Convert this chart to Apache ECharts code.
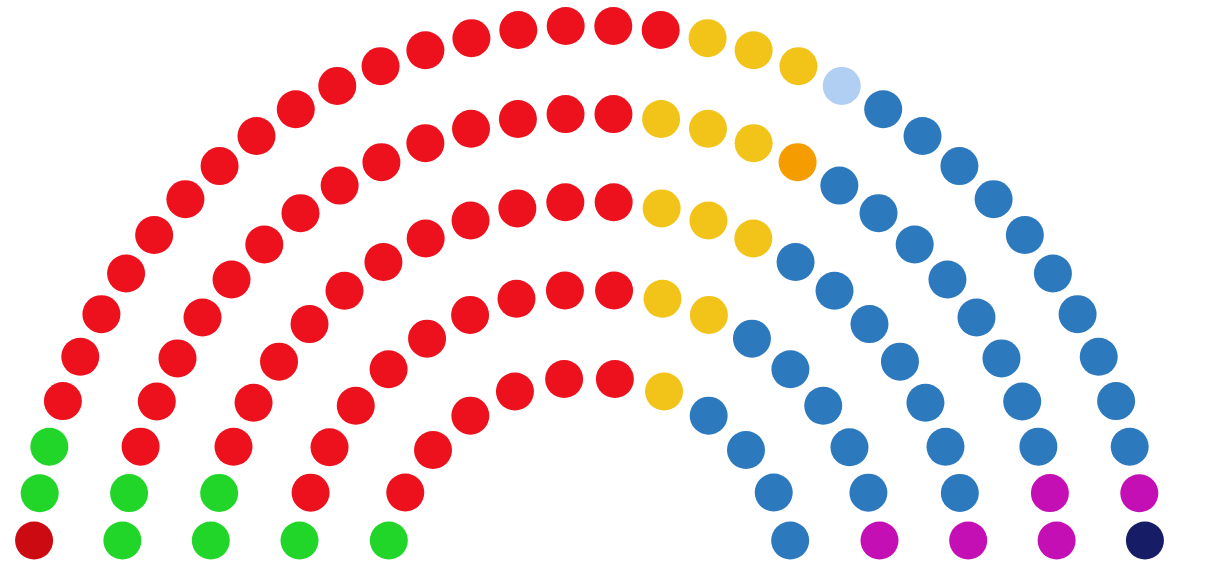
<!DOCTYPE html>
<html>
<head>
<meta charset="utf-8">
<script src="https://cdn.jsdelivr.net/npm/echarts@6/dist/echarts.min.js"></script>
<style>
html,body{margin:0;padding:0;background:#fff;}
#chart{width:1224px;height:582px;}
</style>
</head>
<body>
<div id="chart"></div>
<script>
// Parties in seat order (left to right)
const partyNames = ['Party A', 'Party B', 'Party C', 'Party D', 'Party E', 'Party F', 'Party G', 'Party H', 'Party I'];
const partySeats = [1, 8, 57, 12, 1, 1, 34, 5, 1];
const partyColors = ['#CC0A12', '#22D629', '#EC111C', '#F2C419', '#F59C00', '#B0CFF2', '#2C79BE', '#C40FB5', '#161D66'];
// Seats per row, inner to outer
const rowSeats = [12, 18, 24, 30, 36];

const RADIUS_OFFSET = 1.33;   // inner gap in row units
const BASE_LIFT = 0.477;      // lift of row ends above centre, row units

// build seat positions (radius in row units, angle in degrees)
const seats = [];
rowSeats.forEach((n, i) => {
  const r = i + 1 + RADIUS_OFFSET;
  const a0 = Math.asin(BASE_LIFT / r) * 180 / Math.PI;
  const step = (180 - 2 * a0) / (n - 1);
  for (let k = 0; k < n; k++) {
    const phi = a0 + k * step;
    seats.push({ r: i + 1, phi: phi, row: i });
  }
});
seats.sort((a, b) => (a.phi - b.phi) || (b.row - a.row));

const series = [];
let idx = 0;
partySeats.forEach((count, p) => {
  const data = [];
  for (let c = 0; c < count; c++) {
    const s = seats[idx++];
    data.push([s.r, 180 - s.phi]);
  }
  series.push({
    name: partyNames[p],
    type: 'scatter',
    coordinateSystem: 'polar',
    symbol: 'circle',
    symbolSize: 38,
    itemStyle: { color: partyColors[p], opacity: 1 },
    emphasis: { disabled: true },
    data: data
  });
});

const chart = echarts.init(document.getElementById('chart'));
chart.setOption({
  animation: false,
  backgroundColor: '#ffffff',
  polar: { center: [589.5, 582.5], radius: 557 },
  angleAxis: {
    type: 'value', min: 0, max: 360, startAngle: 0, clockwise: false,
    show: false, splitLine: { show: false }
  },
  radiusAxis: {
    type: 'value', min: -RADIUS_OFFSET, max: 5,
    show: false, splitLine: { show: false }
  },
  series: series
});
</script>
</body>
</html>
